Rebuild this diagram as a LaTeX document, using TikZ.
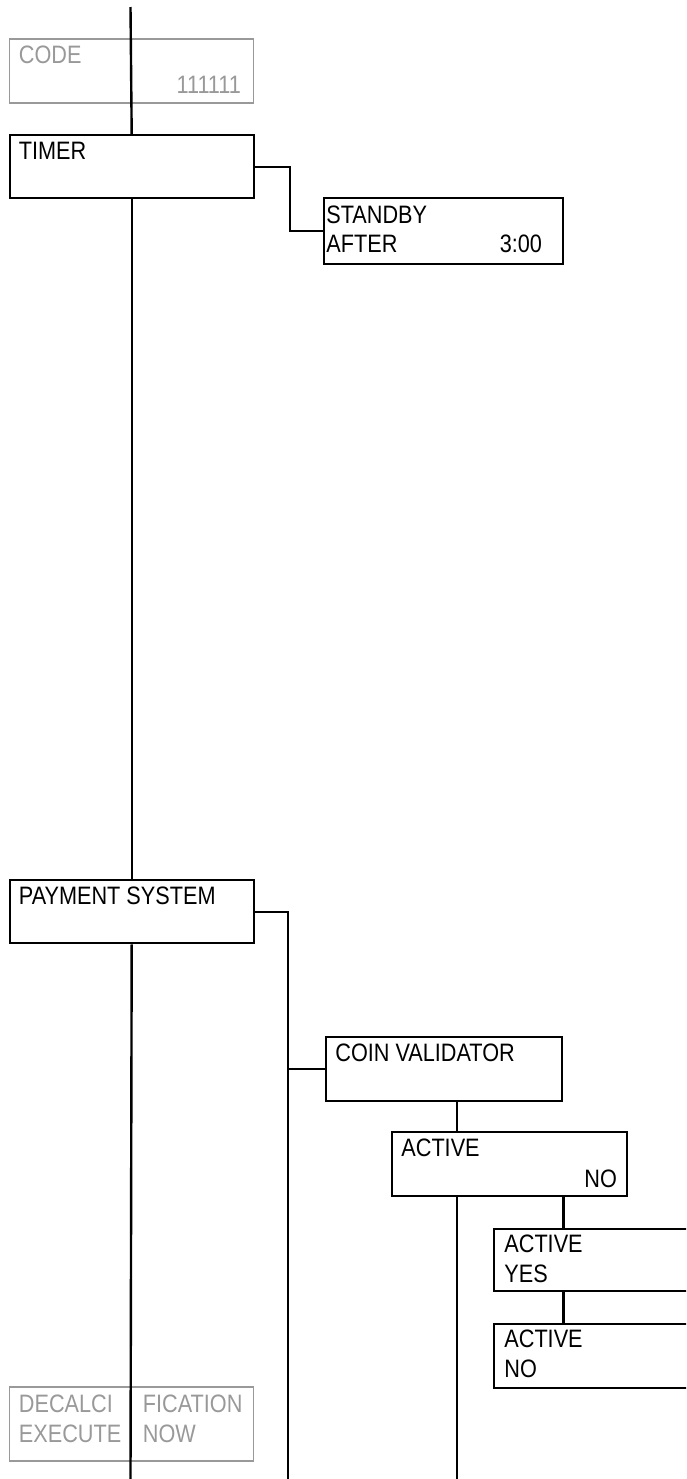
\documentclass[tikz,border=0pt]{standalone}
\usepackage{fontspec}
\setmainfont{Liberation Sans}[FakeStretch=0.86]
\usepackage{tikz}
\usetikzlibrary{positioning}
\definecolor{dimgray}{gray}{0.6}

\begin{document}
\begin{tikzpicture}[x=0.5pt, y=-0.5pt,
    menu/.style={draw, line width=1.2pt, anchor=north west, inner sep=0pt, minimum width=122pt, minimum height=32pt},
    off/.style={menu, draw=dimgray, line width=0.9pt},
    txt/.style={anchor=base west, inner sep=0pt, font=\fontsize{12.6}{15}\selectfont},
    txtr/.style={txt, anchor=base east},
    link/.style={line width=1.2pt}]

    % Page frame
    \useasboundingbox (0,0) rectangle (686,1479);
    \clip (0,0) rectangle (686,1479);

    % Menu boxes
    \node[off] (code) at (8.5,38) {};
    \node[menu, minimum height=31.5pt] (timer) at (8.5,134) {};
    \node[menu, minimum width=119.5pt, minimum height=33pt] (standby) at (323,197) {};
    \node[menu, minimum height=31.5pt] (pay) at (8.5,879) {};
    \node[menu, minimum width=118pt] (coin) at (325,1036) {};
    \node[menu, minimum width=117.5pt] (act) at (391,1131) {};
    \node[menu, minimum width=110pt, minimum height=31pt] (actyes) at (493,1228) {};
    \node[menu, minimum width=110pt] (actno) at (493,1323) {};
    \node[off, minimum height=37pt] (decal) at (8.5,1386) {};

    % Free ends
    \coordinate (top) at (130.5,7);
    \coordinate (spinebot) at (130.5,1479);
    \coordinate (paybot) at (288,1479);
    \coordinate (coinbot) at (457,1479);

    % Main line
    \draw[link] (top) -- (timer.north);
    \draw[link] (timer.south) -- (pay.north);
    \draw[link] (pay.south) -- (spinebot);

    % Branches
    \draw[link] (timer.east) -- ++(35,0) |- (standby.west);
    \draw[link] (pay.east) -| (paybot);
    \draw[link] (coin.west) -- (coin.west -| paybot);
    \draw[link] (coin.south -| coinbot) -- (act.north -| coinbot);
    \draw[link] (act.south -| coinbot) -- (coinbot);
    \draw[link] (act.south -| coin.east) -- (actyes.north -| coin.east);
    \draw[link] (actyes.south -| coin.east) -- (actno.north -| coin.east);

    % Labels
    \node[txt, text=dimgray] (codea) at ([shift={(10,25)}]code.north west) {CODE};
    \node[txtr, text=dimgray] (codeb) at ([shift={(-13,55)}]code.north east) {111111};
    \node[txt] (timera) at ([shift={(10,25)}]timer.north west) {TIMER};
    \node[txt] (standbya) at ([shift={(3,26)}]standby.north west) {STANDBY};
    \node[txt] (standbyb) at ([shift={(3,55)}]standby.north west) {AFTER};
    \node[txtr] (standbyc) at ([shift={(-22,55)}]standby.north east) {3:00};
    \node[txt] (paya) at ([shift={(10,25)}]pay.north west) {PAYMENT SYSTEM};
    \node[txt] (coina) at ([shift={(10,25)}]coin.north west) {COIN VALIDATOR};
    \node[txt] (acta) at ([shift={(10,25)}]act.north west) {ACTIVE};
    \node[txtr] (actb) at ([shift={(-11,56)}]act.north east) {NO};
    \node[txt] (actyesa) at ([shift={(11,24)}]actyes.north west) {ACTIVE};
    \node[txt] (actyesb) at ([shift={(11,54)}]actyes.north west) {YES};
    \node[txt] (actnoa) at ([shift={(11,24)}]actno.north west) {ACTIVE};
    \node[txt] (actnob) at ([shift={(11,54)}]actno.north west) {NO};
    \node[txt, text=dimgray] (decala) at ([shift={(10,26)}]decal.north west) {DECALCI};
    \node[txt, text=dimgray] (decalb) at ([shift={(134,26)}]decal.north west) {FICATION};
    \node[txt, text=dimgray] (decalc) at ([shift={(10,56)}]decal.north west) {EXECUTE};
    \node[txt, text=dimgray] (decald) at ([shift={(134,56)}]decal.north west) {NOW};

\end{tikzpicture}
\end{document}
